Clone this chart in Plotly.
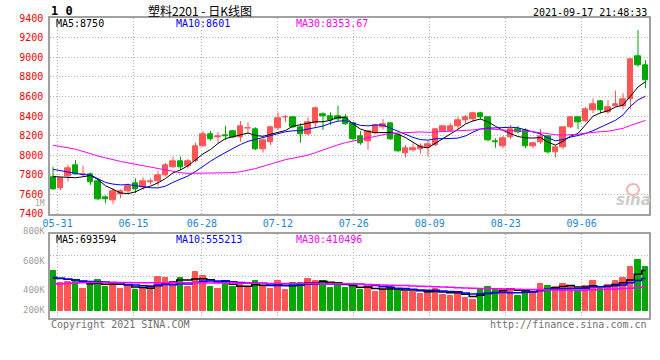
import pandas as pd
import plotly.graph_objects as go

W, H = 660, 360

# ---------------- data ----------------
holiday = pd.Timestamp("2021-06-14")
trade_days = [d for d in pd.bdate_range("2021-05-28", "2021-09-17") if d != holiday]
date_str = [d.strftime("%m-%d") for d in trade_days]

opens = [7772, 7655, 7780, 7900, 7800, 7806, 7735, 7563, 7540, 7603,
         7625, 7710, 7667, 7720, 7728, 7796, 7875, 7940, 7882, 7932,
         8093, 8213, 8180, 8200, 8240, 8182, 8270, 8267, 8062, 8127,
         8274, 8383, 8383, 8284, 8216, 8325, 8417, 8400, 8400, 8390,
         8322, 8197, 8146, 8226, 8285, 8325, 8200, 8015, 8045, 8060,
         8075, 8100, 8246, 8246, 8291, 8352, 8366, 8427, 8386, 8140,
         8093, 8182, 8267, 8257, 8086, 8127, 8195, 8028, 8076, 8281,
         8383, 8349, 8455, 8554, 8434, 8502, 8502, 8574, 9014, 8922]
highs = [7880, 7770, 7900, 7950, 7892, 7820, 7762, 7585, 7660, 7650,
         7711, 7762, 7772, 7762, 7840, 7920, 7985, 7985, 7960, 8127,
         8247, 8247, 8235, 8298, 8255, 8349, 8335, 8284, 8172, 8298,
         8438, 8410, 8393, 8325, 8386, 8496, 8438, 8438, 8505, 8420,
         8330, 8246, 8257, 8320, 8370, 8330, 8205, 8103, 8120, 8120,
         8145, 8275, 8300, 8325, 8393, 8410, 8444, 8444, 8390, 8172,
         8195, 8308, 8298, 8274, 8137, 8267, 8200, 8103, 8290, 8400,
         8393, 8490, 8581, 8564, 8564, 8659, 8632, 8985, 9280, 8973]
lows = [7643, 7640, 7730, 7800, 7779, 7695, 7540, 7507, 7496, 7558,
        7609, 7610, 7645, 7700, 7684, 7780, 7865, 7848, 7865, 7926,
        8086, 8148, 8125, 8155, 8175, 8137, 8216, 8052, 8025, 8103,
        8257, 8335, 8274, 8127, 8199, 8291, 8257, 8308, 8350, 8310,
        8150, 8105, 8055, 8215, 8260, 8155, 8035, 7975, 8035, 8015,
        7985, 8095, 8240, 8240, 8264, 8325, 8342, 8366, 8140, 8076,
        8069, 8165, 8222, 8069, 8069, 8113, 8015, 7974, 8060, 8274,
        8264, 8340, 8427, 8427, 8420, 8496, 8468, 8468, 8905, 8683]
closes = [7650, 7760, 7865, 7805, 7808, 7718, 7552, 7545, 7625, 7625,
          7677, 7650, 7728, 7728, 7796, 7898, 7940, 7880, 7940, 8085,
          8213, 8165, 8190, 8190, 8182, 8291, 8278, 8062, 8148, 8284,
          8376, 8390, 8284, 8216, 8335, 8478, 8393, 8359, 8368, 8320,
          8158, 8125, 8240, 8308, 8320, 8165, 8035, 8069, 8066, 8090,
          8110, 8267, 8291, 8291, 8359, 8383, 8427, 8383, 8148, 8135,
          8172, 8264, 8230, 8086, 8120, 8195, 8028, 8079, 8284, 8383,
          8332, 8468, 8523, 8455, 8489, 8520, 8574, 8980, 8922, 8762]
ma5 = [7780, 7778, 7772, 7768, 7778, 7791, 7750, 7686, 7650, 7613,
       7605, 7624, 7661, 7682, 7716, 7760, 7818, 7848, 7891, 7949,
       8012, 8057, 8119, 8169, 8188, 8204, 8226, 8201, 8192, 8213,
       8230, 8252, 8296, 8310, 8320, 8341, 8341, 8356, 8387, 8384,
       8320, 8266, 8242, 8230, 8230, 8232, 8214, 8179, 8131, 8085,
       8074, 8120, 8165, 8210, 8264, 8318, 8350, 8369, 8340, 8295,
       8253, 8220, 8190, 8177, 8174, 8179, 8132, 8102, 8141, 8194,
       8221, 8309, 8398, 8432, 8453, 8491, 8512, 8604, 8697, 8752]
ma10 = [7854, 7840, 7822, 7810, 7800, 7796, 7760, 7720, 7703, 7695,
        7698, 7687, 7673, 7666, 7664, 7682, 7721, 7755, 7786, 7832,
        7886, 7937, 7984, 8030, 8068, 8108, 8141, 8160, 8180, 8200,
        8217, 8239, 8249, 8251, 8266, 8285, 8297, 8326, 8348, 8352,
        8330, 8304, 8299, 8308, 8307, 8276, 8240, 8211, 8181, 8158,
        8153, 8167, 8172, 8170, 8174, 8196, 8235, 8267, 8275, 8279,
        8286, 8285, 8279, 8259, 8235, 8216, 8176, 8146, 8159, 8184,
        8200, 8221, 8250, 8287, 8324, 8356, 8411, 8501, 8565, 8603]
ma30 = [8100, 8090, 8075, 8060, 8040, 8015, 7990, 7970, 7950, 7935,
        7920, 7905, 7890, 7878, 7865, 7850, 7835, 7820, 7813, 7813,
        7813, 7813, 7813, 7815, 7820, 7830, 7845, 7862, 7885, 7909,
        7933, 7954, 7968, 7982, 8000, 8025, 8053, 8080, 8105, 8128,
        8144, 8160, 8177, 8196, 8214, 8223, 8226, 8232, 8236, 8237,
        8233, 8237, 8240, 8243, 8249, 8252, 8257, 8268, 8268, 8263,
        8256, 8252, 8250, 8246, 8239, 8229, 8217, 8208, 8205, 8207,
        8213, 8224, 8234, 8239, 8244, 8256, 8274, 8304, 8333, 8355]

volume_k = [692, 474, 502, 493, 375, 479, 531, 415, 484, 375,
            415, 358, 375, 427, 588, 571, 502, 571, 415, 675,
            604, 415, 375, 474, 415, 445, 401, 517, 431, 375,
            519, 358, 484, 484, 548, 519, 517, 398, 445, 398,
            422, 363, 410, 329, 358, 415, 363, 324, 324, 289,
            344, 384, 272, 260, 284, 225, 185, 375, 415, 375,
            375, 346, 260, 358, 329, 462, 427, 405, 462, 427,
            329, 427, 514, 375, 445, 514, 561, 761, 877, 755]
vma5_k = [560, 555, 545, 530, 507, 465, 476, 459, 457, 457,
          444, 409, 401, 390, 433, 464, 493, 532, 529, 547,
          553, 536, 497, 509, 457, 425, 422, 450, 442, 434,
          449, 440, 433, 444, 479, 479, 510, 493, 485, 455,
          436, 405, 408, 384, 376, 375, 375, 358, 357, 343,
          329, 333, 323, 310, 309, 285, 245, 266, 297, 315,
          345, 377, 354, 343, 334, 351, 367, 396, 417, 437,
          410, 410, 432, 414, 418, 455, 482, 531, 632, 694]
vma10_k = [575, 560, 545, 530, 515, 505, 500, 495, 488, 482,
           454, 443, 430, 423, 445, 454, 451, 467, 460, 490,
           509, 514, 514, 519, 502, 489, 479, 474, 475, 445,
           437, 431, 442, 443, 456, 464, 475, 463, 465, 467,
           457, 458, 450, 435, 416, 406, 390, 383, 371, 360,
           352, 354, 340, 333, 326, 307, 289, 294, 303, 312,
           315, 311, 310, 320, 324, 348, 372, 375, 380, 385,
           381, 389, 414, 416, 427, 433, 446, 482, 523, 556]
vma30_k = [462, 468, 474, 480, 484, 486, 488, 488, 488, 487,
           486, 485, 484, 483, 483, 483, 483, 482, 482, 482,
           482, 481, 480, 479, 478, 477, 476, 475, 473, 472,
           471, 470, 470, 469, 469, 469, 468, 468, 467, 467,
           463, 459, 455, 450, 446, 442, 438, 434, 429, 424,
           419, 414, 409, 404, 399, 394, 389, 386, 383, 380,
           377, 374, 371, 368, 365, 362, 360, 357, 355, 352,
           355, 358, 362, 366, 370, 376, 382, 390, 400, 410]

price_ticks = [7400, 7600, 7800, 8000, 8200, 8400, 8600, 8800, 9000, 9200, 9400]
date_labels = ["05-31", "06-15", "06-28", "07-12", "07-26", "08-09", "08-23", "09-06"]
vol_labels = ["1M", "800K", "600K", "400K", "200K"]
title_text = "塑料2201 - 日K线图"
stamp_text = "2021-09-17 21:48:33"
legend_main = ["MA5:8750", "MA10:8601", "MA30:8353.67"]
legend_vol = ["MA5:693594", "MA10:555213", "MA30:410496"]

# ---------------- styling ----------------
RED, GREEN = "#ff5555", "#00a800"
MA_COLORS = ["#000000", "#0000ff", "#ff00ff"]
MONO = "DejaVu Sans Mono"
GRID = "#b4b4b4"
BORDER = "#a0a0a0"

n = len(closes)
xs = list(range(n))
up = [c >= o for o, c in zip(opens, closes)]
colors = [RED if u else GREEN for u in up]
volume = [v * 1000 for v in volume_k]
vma = [[v * 1000 for v in s] for s in (vma5_k, vma10_k, vma30_k)]

# pixel geometry of the two panels
L, R = 50, 649.3
P_TOP, P_BOT = 18.3, 213.7
V_TOP, V_BOT = 234.0, 318.3
V_BASE = 310.7           # pixel row of zero volume
V_SCALE = 17300          # lots per pixel

X_LO = -0.4
X_HI = X_LO + (R - L) / 7.5
# Sina places each date label on a slightly wider day slot than the candles
label_slot = 600 / 79
tick_pos = [(date_str.index(d) * label_slot - 3) / 7.5 for d in date_labels]

v_hi = (V_BASE - V_TOP) * V_SCALE
v_lo = (V_BASE - V_BOT) * V_SCALE
v_grid = [v_lo + (v_hi - v_lo) * k / 4 for k in (1, 2, 3)]


def px(x):
    return x / W


def py(y):
    return 1 - y / H


fig = go.Figure()

# wicks
for col in (RED, GREEN):
    wx, wy = [], []
    for i in xs:
        if colors[i] == col:
            wx += [i, i, None]
            wy += [lows[i], highs[i], None]
    fig.add_trace(go.Scatter(x=wx, y=wy, mode="lines", line=dict(color=col, width=1),
                             hoverinfo="skip", showlegend=False, xaxis="x", yaxis="y"))
# bodies
fig.add_trace(go.Bar(x=xs, base=[min(o, c) for o, c in zip(opens, closes)],
                     y=[abs(c - o) for o, c in zip(opens, closes)],
                     width=0.7, marker=dict(color=colors, line=dict(color=colors, width=1)),
                     showlegend=False, xaxis="x", yaxis="y"))
# price MAs
for s, col in zip((ma5, ma10, ma30), MA_COLORS):
    fig.add_trace(go.Scatter(x=xs, y=s, mode="lines", line=dict(color=col, width=1),
                             showlegend=False, xaxis="x", yaxis="y"))
# volume
fig.add_trace(go.Bar(x=xs, y=volume, width=0.7,
                     marker=dict(color=colors, line=dict(color=colors, width=1)),
                     showlegend=False, xaxis="x2", yaxis="y2"))
for s, col in zip(vma, MA_COLORS):
    fig.add_trace(go.Scatter(x=xs, y=s, mode="lines", line=dict(color=col, width=1.5, shape="hvh"),
                             showlegend=False, xaxis="x2", yaxis="y2"))

axis_common = dict(showline=True, mirror=True, linecolor=BORDER, linewidth=1.5,
                   zeroline=False, showgrid=True, gridcolor=GRID, griddash="1px,2px",
                   gridwidth=1, ticks="", fixedrange=True, automargin=False)

fig.update_layout(
    width=W, height=H, autosize=False, margin=dict(l=0, r=0, t=0, b=0, pad=0),
    paper_bgcolor="white", plot_bgcolor="white", bargap=0, barmode="overlay",
    showlegend=False,
    xaxis=dict(domain=[px(L), px(R)], range=[X_LO, X_HI], tickmode="array",
               tickvals=tick_pos, ticktext=date_labels,
               tickfont=dict(family=MONO, size=10, color="#1a86d6"), anchor="y",
               **axis_common),
    yaxis=dict(domain=[py(P_BOT), py(P_TOP)], range=[7400, 9400], tickmode="array",
               tickvals=price_ticks, ticktext=[str(t) for t in price_ticks],
               tickfont=dict(family=MONO, size=10, color="#ff0000"), anchor="x",
               ticklabelstandoff=3, **axis_common),
    xaxis2=dict(domain=[px(L), px(R)], range=[X_LO, X_HI], tickmode="array",
                tickvals=tick_pos, showticklabels=False, anchor="y2", **axis_common),
    yaxis2=dict(domain=[py(V_BOT), py(V_TOP)], range=[v_lo, v_hi], tickmode="array",
                tickvals=v_grid, showticklabels=False, anchor="x2", **axis_common),
)

ann = []


def text(x, y, s, color="#000000", size=10, xanchor="left", family=MONO, **kw):
    ann.append(dict(x=px(x), y=py(y), xref="paper", yref="paper", text=s, showarrow=False,
                    xanchor=xanchor, yanchor="middle",
                    font=dict(family=family, size=size, color=color), **kw))


text(49, 10.5, "<b>1 0</b>", size=12)
text(200, 10, title_text, size=12, xanchor="center", family="Noto Sans CJK SC")
text(649, 12.5, stamp_text, size=10, xanchor="right")
for s, col, x in zip(legend_main, MA_COLORS, (54, 174, 294)):
    text(x, 24, s, color=col, size=10)
for s, col, x in zip(legend_vol, MA_COLORS, (54, 174, 294)):
    text(x, 239, s, color=col, size=10)
for s, y in zip(vol_labels, (203, 230.7, 261, 290, 310)):
    text(47, y, s, color="#a0a0a0", size=8 if s == "1M" else 9, xanchor="right")
text(49, 324, "Copyright 2021 SINA.COM", color="#707070", size=10)
text(649, 324, "http://finance.sina.com.cn", color="#707070", size=10, xanchor="right")
text(633, 200, "<b><i>sina</i></b>", color="#cccccc", size=15, xanchor="center",
     family="DejaVu Sans")
fig.update_layout(annotations=ann)
fig.add_shape(type="circle", xref="paper", yref="paper", x0=px(627), x1=px(639),
              y0=py(195), y1=py(184), line=dict(color="#f5b5b5", width=2))

fig.write_html("out.html",
               config={"displayModeBar": False, "responsive": False},
               post_script="document.body.style.margin='0';"
                           "document.body.style.overflow='hidden';")
